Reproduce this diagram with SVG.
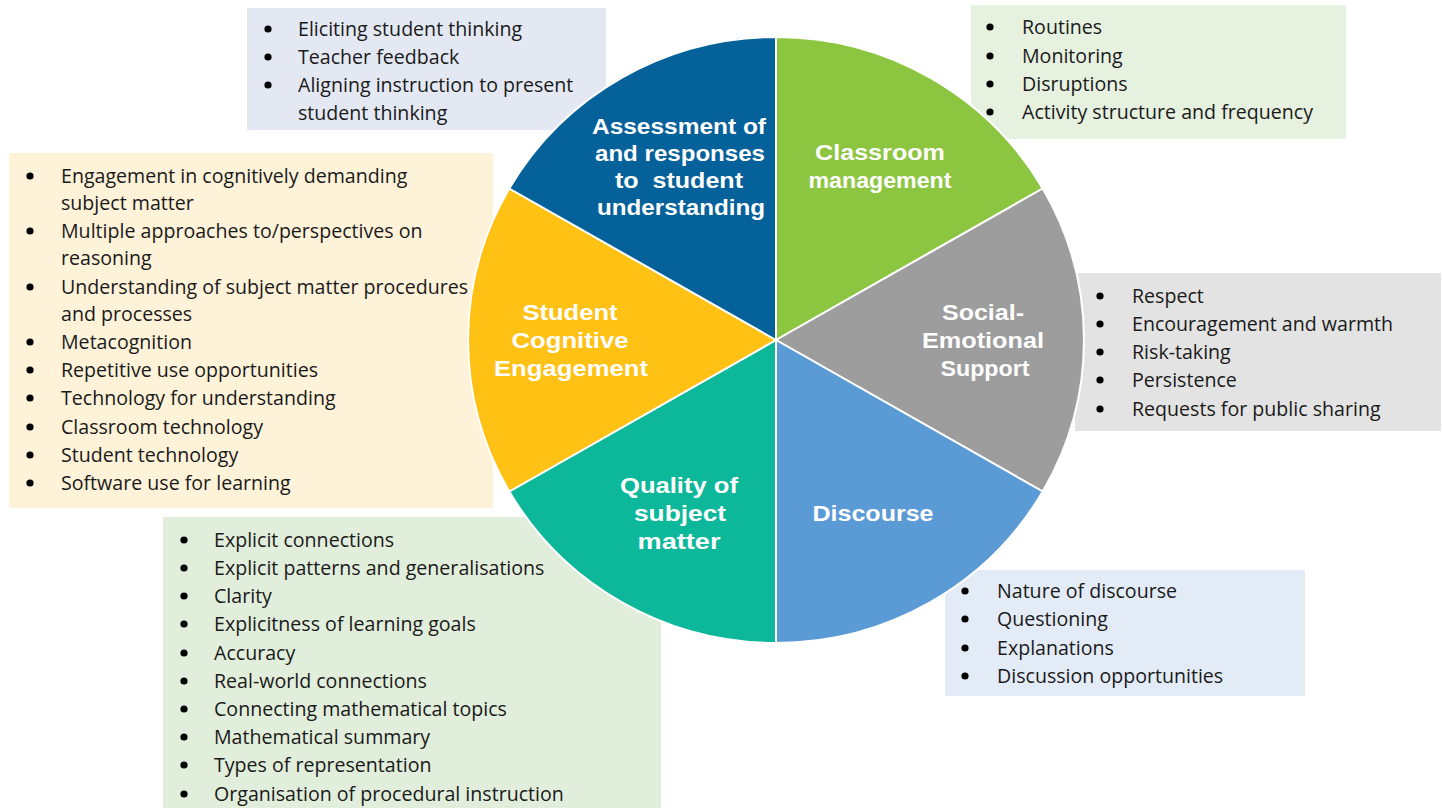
<svg xmlns="http://www.w3.org/2000/svg" width="1443" height="808" viewBox="0 0 1443 808">
<style>
.it{font-family:"Open Sans","Liberation Sans",sans-serif;font-size:19.6px;fill:#1a1a1a}
.lb{font-family:"Liberation Sans",Arial,sans-serif;font-size:22px;font-weight:bold;fill:#ffffff;text-anchor:middle}
.sl{stroke:#ffffff;stroke-width:2;stroke-linejoin:round}
</style>
<defs>
<circle id="dot" r="3.6" fill="#000"/>
</defs>
<rect width="1443" height="808" fill="#ffffff"/>
<g id="box-assessment">
<rect x="247" y="8" width="359" height="122" fill="#E3E8F3"/>
<use href="#dot" x="268" y="29"/><use href="#dot" x="268" y="57"/><use href="#dot" x="268" y="85"/>
<text class="it" x="298" y="36">Eliciting student thinking</text>
<text class="it" x="298" y="64">Teacher feedback</text>
<text class="it" x="298" y="92">Aligning instruction to present</text>
<text class="it" x="298" y="120">student thinking</text>
</g>
<g id="box-classroom">
<rect x="971" y="5" width="375" height="134" fill="#E6F1E0"/>
<use href="#dot" x="990" y="27"/><use href="#dot" x="990" y="56"/><use href="#dot" x="990" y="84"/><use href="#dot" x="990" y="112"/>
<text class="it" x="1022" y="34">Routines</text>
<text class="it" x="1022" y="63">Monitoring</text>
<text class="it" x="1022" y="91">Disruptions</text>
<text class="it" x="1022" y="119">Activity structure and frequency</text>
</g>
<g id="box-cognitive">
<rect x="9" y="153" width="484" height="355" fill="#FEF2D9"/>
<use href="#dot" x="30" y="176"/><use href="#dot" x="30" y="231"/><use href="#dot" x="30" y="287"/><use href="#dot" x="30" y="342"/><use href="#dot" x="30" y="370"/><use href="#dot" x="30" y="398"/><use href="#dot" x="30" y="427"/><use href="#dot" x="30" y="455"/><use href="#dot" x="30" y="483"/>
<text class="it" x="61" y="183">Engagement in cognitively demanding</text>
<text class="it" x="61" y="210">subject matter</text>
<text class="it" x="61" y="238">Multiple approaches to/perspectives on</text>
<text class="it" x="61" y="265">reasoning</text>
<text class="it" x="61" y="294">Understanding of subject matter procedures</text>
<text class="it" x="61" y="321">and processes</text>
<text class="it" x="61" y="349">Metacognition</text>
<text class="it" x="61" y="377">Repetitive use opportunities</text>
<text class="it" x="61" y="405">Technology for understanding</text>
<text class="it" x="61" y="434">Classroom technology</text>
<text class="it" x="61" y="462">Student technology</text>
<text class="it" x="61" y="490">Software use for learning</text>
</g>
<g id="box-social">
<rect x="1075" y="273" width="366" height="158" fill="#E3E3E3"/>
<use href="#dot" x="1100" y="296"/><use href="#dot" x="1100" y="324"/><use href="#dot" x="1100" y="352"/><use href="#dot" x="1100" y="380"/><use href="#dot" x="1100" y="409"/>
<text class="it" x="1132" y="303">Respect</text>
<text class="it" x="1132" y="331">Encouragement and warmth</text>
<text class="it" x="1132" y="359">Risk-taking</text>
<text class="it" x="1132" y="387">Persistence</text>
<text class="it" x="1132" y="416">Requests for public sharing</text>
</g>
<g id="box-quality">
<rect x="163" y="517" width="498" height="291" fill="#E1EEDB"/>
<use href="#dot" x="184" y="540"/><use href="#dot" x="184" y="568"/><use href="#dot" x="184" y="596"/><use href="#dot" x="184" y="624"/><use href="#dot" x="184" y="653"/><use href="#dot" x="184" y="681"/><use href="#dot" x="184" y="709"/><use href="#dot" x="184" y="737"/><use href="#dot" x="184" y="765"/><use href="#dot" x="184" y="794"/>
<text class="it" x="214" y="547">Explicit connections</text>
<text class="it" x="214" y="575">Explicit patterns and generalisations</text>
<text class="it" x="214" y="603">Clarity</text>
<text class="it" x="214" y="631">Explicitness of learning goals</text>
<text class="it" x="214" y="660">Accuracy</text>
<text class="it" x="214" y="688">Real-world connections</text>
<text class="it" x="214" y="716">Connecting mathematical topics</text>
<text class="it" x="214" y="744">Mathematical summary</text>
<text class="it" x="214" y="772">Types of representation</text>
<text class="it" x="214" y="801">Organisation of procedural instruction</text>
</g>
<g id="box-discourse">
<rect x="945" y="570" width="360" height="126" fill="#E3EBF6"/>
<use href="#dot" x="965" y="591"/><use href="#dot" x="965" y="619"/><use href="#dot" x="965" y="648"/><use href="#dot" x="965" y="676"/>
<text class="it" x="997" y="598">Nature of discourse</text>
<text class="it" x="997" y="626">Questioning</text>
<text class="it" x="997" y="655">Explanations</text>
<text class="it" x="997" y="683">Discussion opportunities</text>
</g>
<g id="pie">
<g id="slice-classroom">
<path class="sl" fill="#8CC540" d="M776,340 L776,37 A308,303 0 0 1 1042.7,188.5 Z"/>
<text class="lb" x="880" y="160" textLength="130" lengthAdjust="spacingAndGlyphs">Classroom</text>
<text class="lb" x="880" y="188" textLength="143" lengthAdjust="spacingAndGlyphs">management</text>
</g>
<g id="slice-social">
<path class="sl" fill="#9D9D9D" d="M776,340 L1042.7,188.5 A308,303 0 0 1 1042.7,491.5 Z"/>
<text class="lb" x="983" y="320" textLength="82" lengthAdjust="spacingAndGlyphs">Social-</text>
<text class="lb" x="983" y="348" textLength="122" lengthAdjust="spacingAndGlyphs">Emotional</text>
<text class="lb" x="985" y="376" textLength="89" lengthAdjust="spacingAndGlyphs">Support</text>
</g>
<g id="slice-discourse">
<path class="sl" fill="#5B9BD5" d="M776,340 L1042.7,491.5 A308,303 0 0 1 776,643 Z"/>
<text class="lb" x="873" y="521" textLength="121" lengthAdjust="spacingAndGlyphs">Discourse</text>
</g>
<g id="slice-quality">
<path class="sl" fill="#0DB89A" d="M776,340 L776,643 A308,303 0 0 1 509.3,491.5 Z"/>
<text class="lb" x="679" y="493" textLength="118" lengthAdjust="spacingAndGlyphs">Quality of</text>
<text class="lb" x="680" y="521" textLength="92" lengthAdjust="spacingAndGlyphs">subject</text>
<text class="lb" x="679" y="549" textLength="83" lengthAdjust="spacingAndGlyphs">matter</text>
</g>
<g id="slice-cognitive">
<path class="sl" fill="#FFC113" d="M776,340 L509.3,491.5 A308,303 0 0 1 509.3,188.5 Z"/>
<text class="lb" x="570" y="320" textLength="95" lengthAdjust="spacingAndGlyphs">Student</text>
<text class="lb" x="570" y="348" textLength="117" lengthAdjust="spacingAndGlyphs">Cognitive</text>
<text class="lb" x="571" y="376" textLength="154" lengthAdjust="spacingAndGlyphs">Engagement</text>
</g>
<g id="slice-assessment">
<path class="sl" fill="#05619A" d="M776,340 L509.3,188.5 A308,303 0 0 1 776,37 Z"/>
<text class="lb" x="679" y="134" textLength="174" lengthAdjust="spacingAndGlyphs">Assessment of</text>
<text class="lb" x="680" y="161" textLength="170" lengthAdjust="spacingAndGlyphs">and responses</text>
<text class="lb" x="679" y="188" textLength="128" lengthAdjust="spacingAndGlyphs" xml:space="preserve">to  student</text>
<text class="lb" x="681" y="215" textLength="168" lengthAdjust="spacingAndGlyphs">understanding</text>
</g>
</g>
</svg>
